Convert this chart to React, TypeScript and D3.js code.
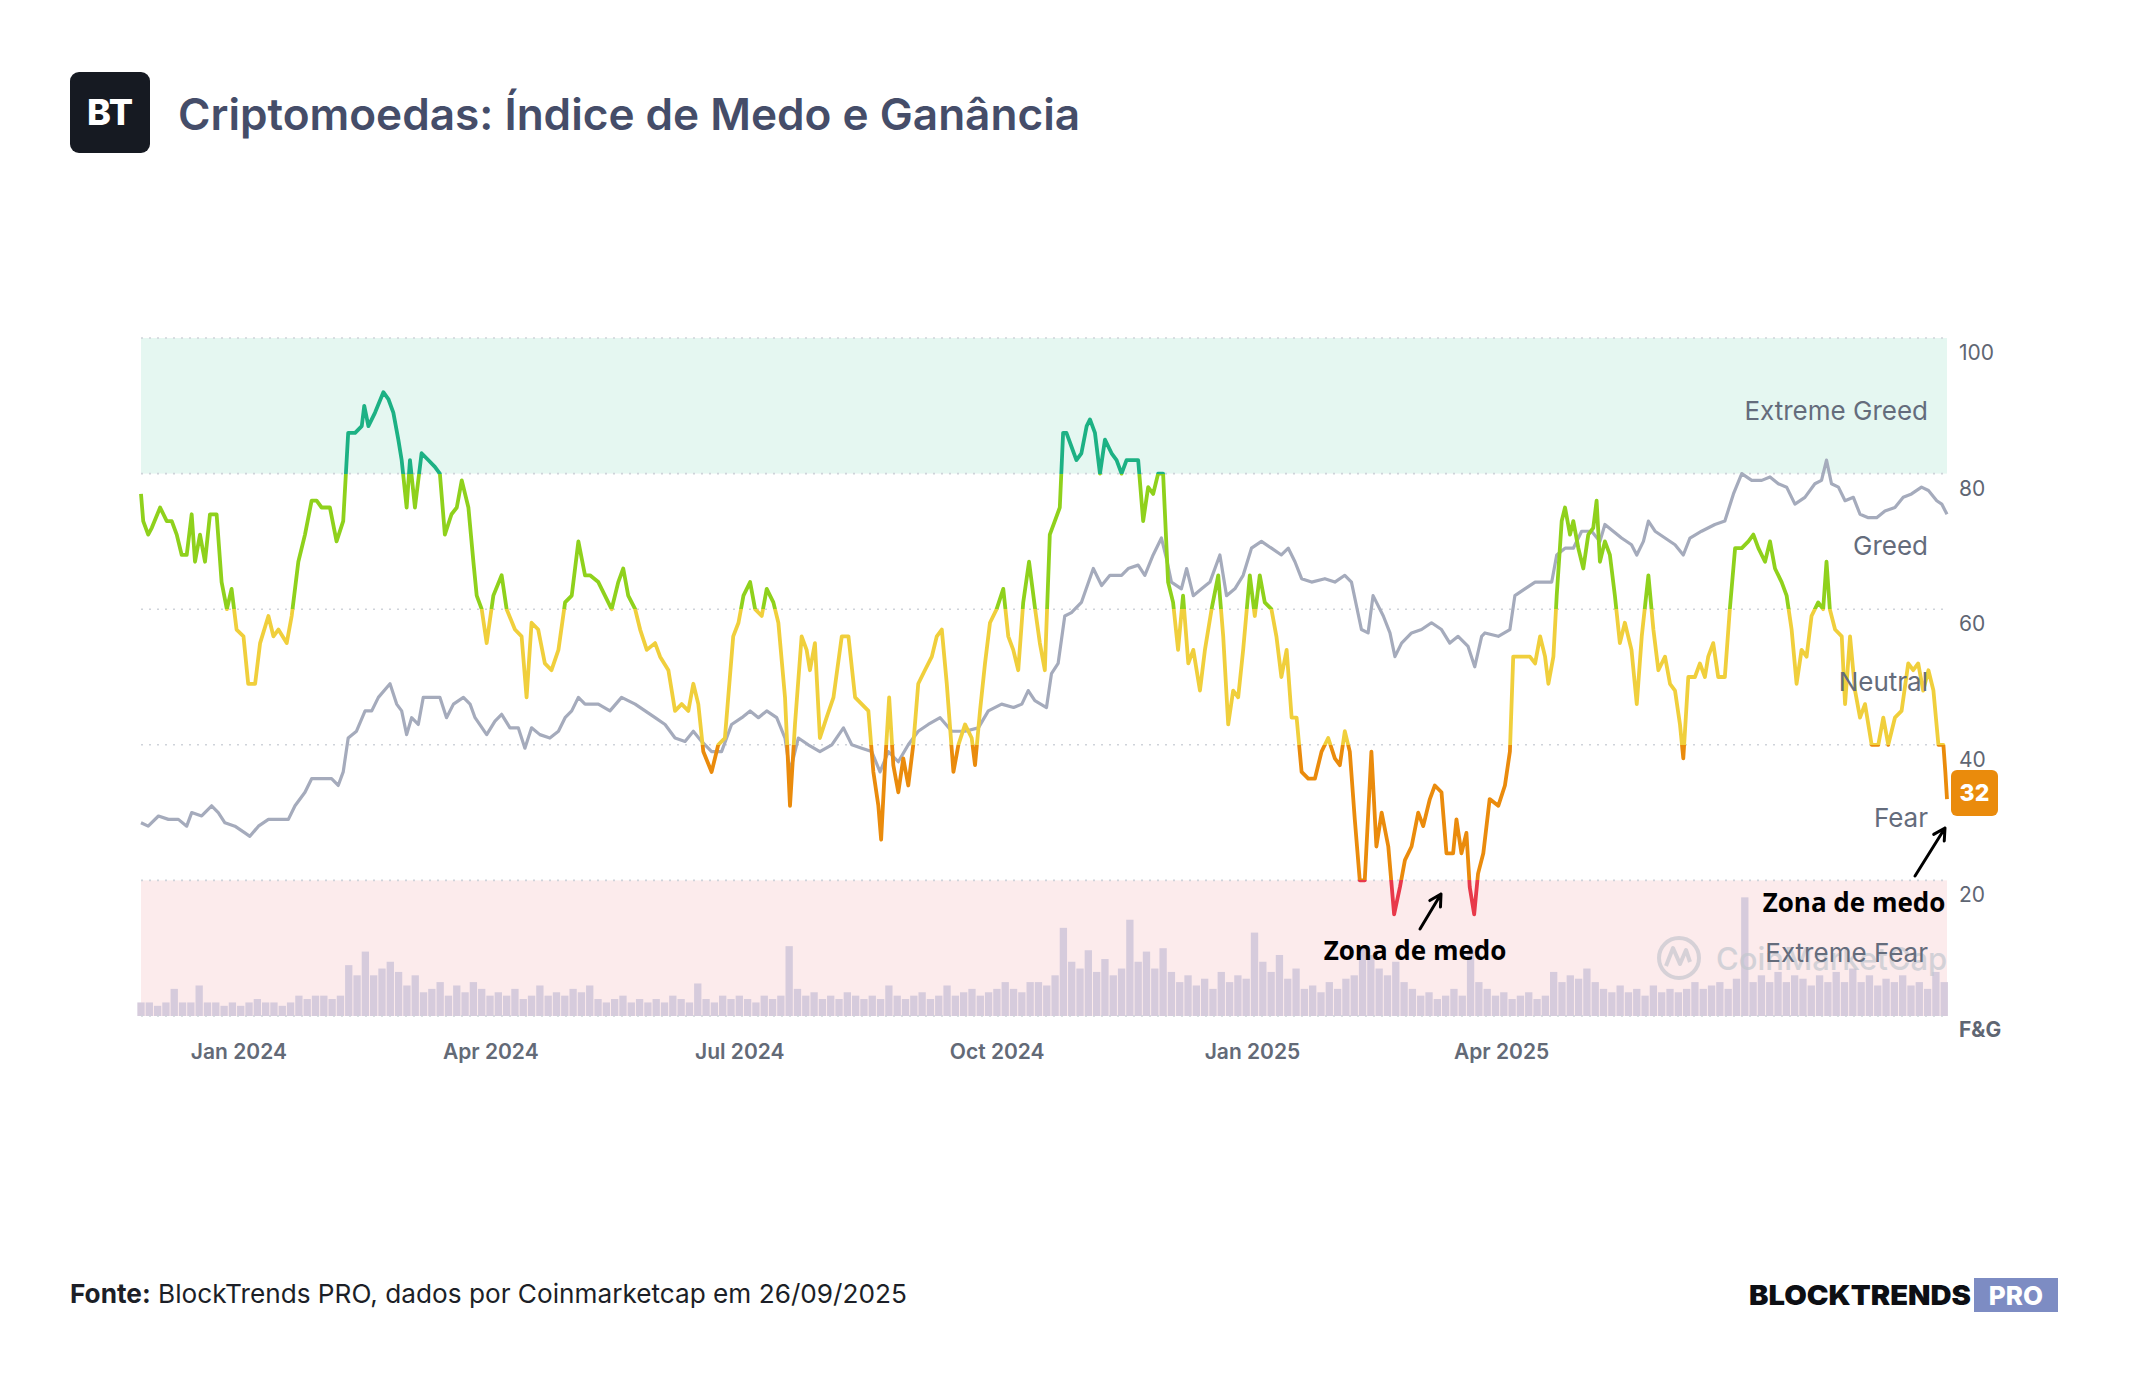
import React from "react";
import * as d3 from "d3";

// chart window: CoinMarketCap Fear & Greed, daily, 14 Dec 2023 -> 26 Sep 2025
const startDate = new Date(Date.UTC(2023, 11, 14));
const endDate = new Date(Date.UTC(2025, 8, 26));

// [days since start, index value]
const fearGreed: [number, number][] = [
  [0,77],[0.8,73],[2.6,71],[3.9,72],[6.9,75],[9.3,73],[11.1,73],[12.9,71],[14.7,68],[16.5,68],[18.3,74],[19.5,67],[21.3,71],[23.1,67],[24.9,74],[27.3,74],[29.1,64],[31,60],[32.7,63],[34.5,57],[37,56],[38.7,49],[41.2,49],[43,55],[46,59],[47.8,56],[49.6,57],[52.6,55],[54.4,59],[56.8,67],[59.2,71],[61.6,76],[63.4,76],[65.2,75],[68.2,75],[70.6,70],[73,73],[74.8,86],[77.3,86],[79.7,87],[80.6,90],[82.1,87],[84.5,89],[87.5,92],[89.3,91],[91.1,89],[92.9,85],[94.1,82],[95.9,75],[97.1,82],[98.9,75],[101.3,83],[103.7,82],[106.1,81],[107.9,80],[109.7,71],[112.1,74],[114,75],[115.8,79],[118.2,75],[120,67],[121.2,62],[123,60],[124.8,55],[127.2,62],[130.2,65],[132,60],[135,57],[137.4,56],[139.2,47],[141,58],[143.4,57],[145.8,52],[148.2,51],[150.7,54],[153.1,61],[155.5,62],[157.9,70],[160.3,65],
  [162.1,65],[165.1,64],[167.5,62],[169.9,60],[172.3,64],[174.1,66],[175.9,62],[178.4,60],[180.2,57],[182.6,54],[185.6,55],[187.4,53],[190.4,51],[192.8,45],[195.2,46],[197.6,45],[199.4,49],[201.2,46],[203,39],[206,36],[208.4,40],[210.8,41],[213.8,56],[215.7,58],[217.5,62],[219.9,64],[221.7,60],[224.1,59],[225.9,63],[228.3,61],[230.1,58],[232.5,47],[234.3,31],[236.1,43],[238.5,56],[240.3,54],[241.5,51],[243.3,55],[245.1,41],[247.5,44],[250,47],[253,56],[255.4,56],[257.8,47],[260.2,46],[262.6,45],[264.4,36],[266.2,31],[267.2,26],[268.6,37],[270.1,47],[271.6,37],[273.4,33],[275.2,38],[277,34],[278.8,40],[280.6,49],[283,51],[285.5,53],[287.3,56],[289.1,57],[290.9,49],[293.3,36],[295.1,40],[297.5,43],[299.9,41],[301.1,37],[302.9,45],[304.7,52],[306.5,58],[308.9,60],[311.3,63],[313.1,56],[314.9,54],[316.7,51],[318.5,61],[320.6,67],[322.8,60],
  [324.5,55],[326.3,51],[328.1,71],[329.9,73],[331.7,75],[332.9,86],[334.1,86],[335.9,84],[337.7,82],[339.5,83],[341.4,87],[342.6,88],[344.4,86],[346.2,80],[348,85],[350.4,83],[352.2,82],[354,80],[355.8,82],[358.2,82],[360,82],[361.8,73],[363.6,78],[365.4,77],[367.2,80],[369,80],[370.8,64],[372.6,61],[374.4,54],[376.2,62],[378.1,52],[379.9,54],[382.3,48],[384.1,54],[386.5,60],[388.9,65],[390.7,56],[392.5,43],[394.3,48],[396.1,47],[397.9,54],[400.3,65],[402.1,59],[403.9,65],[405.7,61],[408.1,60],[409.9,56],[411.7,50],[413.6,54],[415.4,44],[417.2,44],[419,36],[421.4,35],[423.8,35],[426.2,39],[428.6,41],[431,38],[432.8,37],[434.6,42],[436.4,39],[438.2,29],[440,20],[441.8,20],[444.2,39],[446,25],[447.9,30],[450.3,25],[452.4,15],[454.5,19],[456.3,23],[458.7,25],[461.1,30],[462.9,28],[465.3,32],[467.1,34],[469.5,33],[471.3,24],[473.7,24],[474.9,29],[476.7,24],[478.5,27],[479.7,19],[481.3,15],[482.7,21],[484.6,24],[486.9,32],
  [490,31],[492.4,34],[494.2,39],[495.4,53],[497.2,53],[499.6,53],[501.4,53],[503.3,52],[505.1,56],[506.9,53],[508.1,49],[509.9,53],[511.1,62],[512.9,73],[514.1,75],[515.9,71],[517.1,73],[518.9,69],[520.7,66],[522.5,71],[524.3,72],[525.5,76],[526.7,67],[528.5,70],[530.3,68],[532.1,62],[533.9,55],[535.7,58],[538.1,54],[540,46],[541.8,56],[544.2,65],[546,57],[547.8,51],[550.2,53],[552,49],[553.8,48],[555.6,43],[556.8,38],[558.6,50],[561,50],[562.8,52],[564.6,50],[565.8,53],[567.6,55],[569.4,50],[571.8,50],[573.6,60],[575.5,69],[577.9,69],[580.3,70],[582.1,71],[583.9,69],[586.3,67],[588.1,70],[589.9,66],[592.3,64],[594.1,62],[595.9,57],[597.7,49],[599.5,54],[601.3,53],[603.1,59],[605.5,61],[607.3,60],[608.5,67],[609.7,60],[611.6,57],[614,56],[615.2,46],[617,56],[618.8,48],[620.6,44],[622.4,46],[624.8,40],[627.2,40],[629,44],[630.8,40],[633.2,44],[635.6,45],[638,52],[639.8,51],[641.6,52],[643.4,48],[645.3,51],[647.1,48],[648.9,40],[650.7,40],[651.4,36],[652,32],
];

// bitcoin price, rescaled to the 0-100 axis as in the source chart
const btcPrice: [number, number][] = [
  [0,28.5],[2.6,28],[6.3,29.5],[9.9,29],[13.5,29],[16.5,28],[18.3,30],[21.9,29.5],[25.5,31],[27.9,30],[30.3,28.5],[33.9,28],[37.5,27],[39.3,26.5],[42.4,28],[46,29],[49.6,29],[53.2,29],[55.6,31],[59.2,33],[61.6,35],[65.2,35],[68.8,35],[71.2,34],[73,36],[74.8,41],[77.8,42],[80.9,45],[83.3,45],[85.7,47],[89.9,49],[92.3,46],[94.1,45],[95.9,41.5],[97.7,44],[100.1,43],[101.9,47],[105.1,47],[107.9,47],[110.3,44],[112.8,46],[116.4,47],[118.8,46],[120.6,44],[124.8,41.5],[127.8,43.5],[130.2,44.5],[133.2,42.5],[136.2,42.5],[138.6,39.5],[141,42.5],[144,41.5],[147.6,41],[150.7,42],[153.1,44],[155.5,45],[157.9,47],[160.3,46],
  [165.1,46],[169.3,45],[173.5,47],[178.4,46],[182,45],[185.6,44],[189.2,43],[192.8,41],[196.4,40.5],[199.4,42],[202.4,40.5],[206,39],[209.6,39],[213.2,43],[216.9,44],[219.9,45],[222.9,44],[225.9,45],[229.5,44],[232.5,41],[234.3,36],[237.3,41],[240.9,40],[245.1,39],[249.4,40],[253.6,42.5],[256.6,40],[260.2,39.5],[263.8,39],[266.8,36],[269.8,39],[273.4,37.5],[277,40],[280.6,42],[284.2,43],[288.5,44],[292.7,42],[297.5,42],[302.3,42.5],[305.9,45],[310.7,46],[315,45.5],[318,46],[320.3,48],
  [322.7,46.5],[326.9,45.5],[328.7,50.5],[331.1,52],[333.5,59],[335.9,59.5],[339.5,61],[343.8,66],[346.8,63.5],[349.8,65],[354,65],[356.4,66],[360,66.5],[362.4,65],[365.4,68],[368.4,70.5],[370.2,67.5],[372,64],[375.6,63],[377.5,66],[379.9,62],[382.9,63],[385.9,64],[389.5,68],[391.9,62],[394.9,63],[397.9,65],[400.9,69],[404.5,70],[408.1,69],[411.7,68],[414.2,69],[416.6,67],[419,64.5],[422.6,64],[427.4,64.5],[431,64],[434.6,65],[437,64],[440.6,57],[443,56.5],[444.8,62],[448.5,59],[450.9,56.5],[452.7,53],[455.1,55],[458.7,56.5],[462.3,57],[465.9,58],[469.5,57],[472.5,55],[475.5,56],[479.1,54.5],[481.5,51.5],[484,56],
  [485.2,56.5],[490,56],[494.2,57],[496,62],[499.6,63],[503.3,64],[506.3,64],[509.3,64],[511.1,68],[514.1,69],[517.1,69],[520.1,71.5],[523.7,71.5],[526.7,70],[528.5,72.5],[531.5,71.5],[534.5,70.5],[538.1,69.5],[540,68],[542.4,70],[544.2,73],[546.6,71.5],[550.2,70.5],[553.8,69.5],[556.8,68],[559.2,70.5],[563.4,71.5],[568.2,72.5],[571.8,73],[574.9,77],[577.9,80],[581.5,79],[585.1,79],[588.1,79.5],[591.1,78.5],[594.1,78],[597.1,75.5],[600.7,76.5],[604.3,78.5],[606.7,79],[608.5,82],[610.3,78.5],[612.8,78],[615.2,76],[618.2,76.5],[620.6,74],[623.6,73.5],[626.6,73.5],[629.6,74.5],[633.2,75],[636.2,76.5],[639.2,77],[642.8,78],[645.3,77.5],[648.3,76],[650.1,75.5],[652,74],
];

// trading volume bars, one every 3 days, height in axis units
const volumeStep = 3;
const volume = [
  2,2,1.5,2,4,2,2,4.5,2,2,1.5,
  2,1.5,2,2.5,2,2,1.5,2,3,2.5,
  3,3,2.5,3,7.5,
  6,9.5,6,7,8,6.5,
  4.5,6,3.5,4,5,3,4.5,3.5,5,
  4,3,3.5,3,4,2.5,3,4.5,3,3.5,3,4,3.5,4.5,
  2.5,2,2.5,3,2,2.5,2,2.5,2,3,2.5,2,4.8,2.5,2,3,2.5,3,2.5,2,3,2.5,3,10.3,
  4,3,3.5,2.5,3,2.5,3.5,3,2.5,3,2.5,4.5,3,2.5,3,3.5,2.5,3,4.5,3,3.5,4,3,3.5,4,5,4,3.5,5,
  5,4.5,6,13,8,7,9.7,6.5,8.4,6,7,14.2,8,9.5,7,10,6.5,5,6,4.5,5.5,4,6.5,5,6,5.5,12.3,8,6.5,9,5.5,7,4,4.5,3.5,5,4,5.5,6,10.3,9,7,6,8,5,4,3,3.5,2.5,3,4,3,9.7,5,4,
  3,3.5,2.5,3,3.5,2.5,3,6.5,5,6,5.5,7,5,4,3.5,4.5,3.5,4,3,4.5,3.5,4,3.5,4,5,4,4.5,5,4,5.5,17.5,5,6,5,6.5,5,6,5.5,4.5,6,5,6.5,5,7,5,6,4.5,5.5,5,6,4.5,5,4,6.5,5,
];

const yTicks = [100, 80, 60, 40, 20];
const monthTicks = ["2024-01-01", "2024-04-01", "2024-07-01", "2024-10-01", "2025-01-01", "2025-04-01"];
const monthLabels = ["Jan 2024", "Apr 2024", "Jul 2024", "Oct 2024", "Jan 2025", "Apr 2025"];
const zoneNames = ["Extreme Fear", "Fear", "Neutral", "Greed", "Extreme Greed"];
const zoneColors = ["#e8394a", "#ea8b0c", "#f0cf3c", "#8fd11c", "#1db184"];

const W = 2144;
const H = 1400;
const dayToDate = (d: number) => new Date(startDate.getTime() + d * 86400000);

const x = d3.scaleUtc().domain([startDate, endDate]).range([141, 1947]);
const y = d3.scaleLinear().domain([0, 100]).range([1016, 338]);

const line = d3
  .line<[number, number]>()
  .x((d) => x(dayToDate(d[0])))
  .y((d) => y(d[1]));

// small arrow (shaft + open head) from a to b
function arrowPath(x1: number, y1: number, x2: number, y2: number) {
  const a = Math.atan2(y2 - y1, x2 - x1);
  const L = 13;
  const hx1 = x2 - L * Math.cos(a - 0.5);
  const hy1 = y2 - L * Math.sin(a - 0.5);
  const hx2 = x2 - L * Math.cos(a + 0.5);
  const hy2 = y2 - L * Math.sin(a + 0.5);
  return `M${x1},${y1}L${x2},${y2}M${hx1},${hy1}L${x2},${y2}L${hx2},${hy2}`;
}

export default function App() {
  const last = fearGreed[fearGreed.length - 1];
  const x0 = x.range()[0];
  const x1 = x.range()[1];
  const barW = ((x1 - x0) / 652) * volumeStep - 1;

  return (
    <svg
      width={W}
      height={H}
      viewBox={`0 0 ${W} ${H}`}
      style={{ position: "absolute", left: 0, top: 0, background: "#fff" }}
    >
      <defs>
        <linearGradient id="fgGrad" gradientUnits="userSpaceOnUse" x1={0} x2={0} y1={y(0)} y2={y(100)}>
          {zoneColors.map((c, i) => (
            <React.Fragment key={i}>
              <stop offset={i * 0.2} stopColor={c} />
              <stop offset={(i + 1) * 0.2} stopColor={c} />
            </React.Fragment>
          ))}
        </linearGradient>
      </defs>

      {/* header */}
      <rect x={70} y={72} width={80} height={81} rx={9} fill="#161a22" />
      <text x={110} y={125} textAnchor="middle" fill="#fff" fontFamily="Inter" fontWeight={800} fontSize={36}>
        BT
      </text>
      <text
        x={178}
        y={130}
        fill="#454d69"
        fontFamily="Inter"
        fontWeight={600}
        fontSize={44}
        textLength={902}
        lengthAdjust="spacingAndGlyphs"
      >
        Criptomoedas: Índice de Medo e Ganância
      </text>

      {/* zone bands */}
      <rect x={x0} y={y(100)} width={x1 - x0} height={y(80) - y(100)} fill="#e5f7f1" />
      <rect x={x0} y={y(20)} width={x1 - x0} height={y(0) - y(20)} fill="#fcebec" />

      {/* volume bars */}
      <g fill="#d6cbdc">
        {volume.map((v, i) => (
          <rect
            key={i}
            x={x(dayToDate(i * volumeStep)) - barW / 2}
            y={y(v)}
            width={barW}
            height={y(0) - y(v)}
          />
        ))}
      </g>

      {/* grid */}
      <g stroke="#cfd3da" strokeWidth={1.6} strokeDasharray="2 6">
        {[0, 20, 40, 60, 80, 100].map((t) => (
          <line key={t} x1={x0} x2={x1} y1={y(t)} y2={y(t)} />
        ))}
      </g>

      {/* watermark */}
      <g opacity={0.55} fill="none" stroke="#b8bdc7" strokeWidth={4}>
        <circle cx={1679} cy={958} r={20} />
        <path d="M1666,966 L1673,948 L1680,964 L1686,950 L1690,962" strokeLinejoin="round" />
      </g>
      <text x={1716} y={970} fill="#c3c7cf" opacity={0.7} fontFamily="Inter" fontWeight={500} fontSize={31}>
        CoinMarketCap
      </text>

      {/* lines */}
      <path d={line(btcPrice) ?? ""} fill="none" stroke="#a5abbc" strokeWidth={3.2} strokeLinejoin="round" />
      <path d={line(fearGreed) ?? ""} fill="none" stroke="url(#fgGrad)" strokeWidth={3.8} strokeLinejoin="round" />

      {/* zone labels */}
      <g fontFamily="Inter" fontSize={26} fill="#646c7c" textAnchor="end">
        {zoneNames.map((n, i) => (
          <text key={n} x={1928} y={y(i * 20 + 10) + 14}>
            {n}
          </text>
        ))}
      </g>

      {/* y axis labels */}
      <g fontFamily="Inter" fontSize={21} fill="#5f6673">
        {yTicks.map((t) => (
          <text key={t} x={1959} y={y(t) + 22}>
            {t}
          </text>
        ))}
        <text x={1959} y={y(0) + 21} fontWeight={700}>
          F&amp;G
        </text>
      </g>

      {/* x axis labels */}
      <g fontFamily="Inter" fontSize={21} fontWeight={600} fill="#636a77">
        {monthTicks.map((m, i) => (
          <text key={m} x={x(new Date(m + "T00:00:00Z"))} y={1059}>
            {monthLabels[i]}
          </text>
        ))}
      </g>

      {/* current value badge */}
      <rect x={1951} y={y(last[1]) - 29} width={47} height={46} rx={6} fill="#ea8b0c" />
      <text
        x={1974.5}
        y={y(last[1]) + 2}
        textAnchor="middle"
        fill="#fff"
        fontFamily="Inter"
        fontWeight={800}
        fontSize={23}
      >
        {last[1]}
      </text>

      {/* annotations */}
      <g fontFamily="Open Sans" fontWeight={700} fontSize={26} fill="#000" textAnchor="middle">
        <text x={1415} y={960}>Zona de medo</text>
        <text x={1854} y={912}>Zona de medo</text>
      </g>
      <g stroke="#000" strokeWidth={3} fill="none" strokeLinecap="round" strokeLinejoin="round">
        <path d={arrowPath(1420, 929, 1441, 894)} />
        <path d={arrowPath(1915, 876, 1945, 828)} />
      </g>

      {/* footer */}
      <text x={70} y={1303} fontFamily="Inter" fontSize={26.2} fill="#1c1f27">
        <tspan fontWeight={700}>Fonte:</tspan>
        <tspan> BlockTrends PRO, dados por Coinmarketcap em 26/09/2025</tspan>
      </text>
      <text x={1749} y={1305} fontFamily="Inter" fontWeight={900} fontSize={27} fill="#0d0f14" textLength={222} lengthAdjust="spacingAndGlyphs">
        BLOCKTRENDS
      </text>
      <rect x={1974} y={1278} width={84} height={34} fill="#7d8cc3" />
      <text x={2016} y={1305} textAnchor="middle" fontFamily="Inter" fontWeight={800} fontSize={26} fill="#fff">
        PRO
      </text>
    </svg>
  );
}
